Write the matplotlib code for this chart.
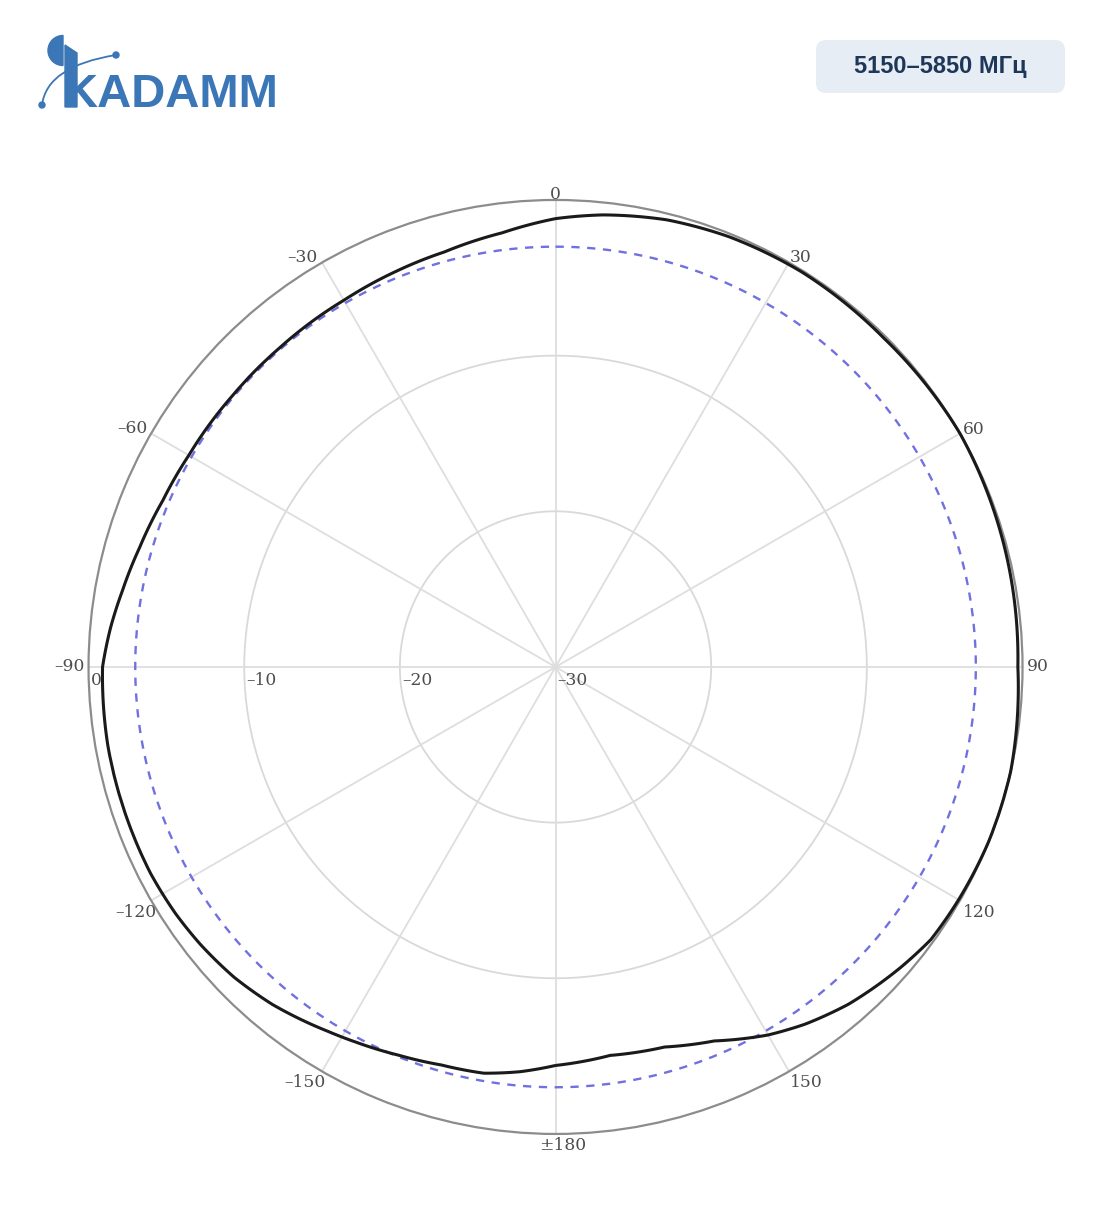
import numpy as np
import matplotlib
matplotlib.use("Agg")
import matplotlib.pyplot as plt
from matplotlib.patches import FancyBboxPatch, Wedge, Polygon, PathPatch, Circle
from matplotlib.path import Path

# --- данные диаграммы направленности (угол, град / уровень, дБ) ---
angles_deg = [-180, -175, -170, -164, -158, -152, -148, -140, -134, -128, -123,
              -117, -110, -100, -90, -85, -80, -74, -67, -60, -50, -41, -30,
              -22, -15, -7, 0, 6, 14, 22, 32, 45, 60, 75, 90, 103, 112, 120,
              126, 131, 139, 145, 150, 157, 164, 172, 180]
gain_db = [-4.4, -3.9, -3.5, -3.4, -3.1, -2.7, -2.4, -1.7, -1.3, -1.05, -0.9,
           -0.8, -0.8, -0.8, -0.9, -1.3, -1.75, -2.2, -2.6, -2.8, -2.9, -2.9, -2.8,
           -2.6, -2.4, -1.9, -1.2, -0.8, -0.4, -0.2, -0.1, -0.15, 0.0, -0.15, -0.3, 0.0, 0.0, -0.1,
           -0.2, -0.6, -1.3, -2.0, -2.7, -3.9, -4.6, -4.8, -4.4]
level_3db = -3
ring_levels = [-20, -10]
ring_labels = ["0", "\u201310", "\u201320", "\u201330"]
r_min, r_max = -30, 0
spoke_angles = list(range(0, 360, 30))
angle_labels = ["0", "30", "60", "90", "120", "150", "\u00b1180",
                "\u2013150", "\u2013120", "\u201390", "\u201360", "\u201330"]
band_text = "5150\u20135850 МГц"

fig = plt.figure(figsize=(11.04, 12.11), dpi=100)

# полярная часть
ax = fig.add_axes([0.0802, 0.0636, 0.846, 0.7713], projection="polar")
ax.set_theta_zero_location("N")
ax.set_theta_direction(-1)
ax.set_ylim(r_min, r_max)
ax.grid(False)
ax.set_xticks([])
ax.set_yticks([])
ax.spines["polar"].set_color("#8c8c8c")
ax.spines["polar"].set_linewidth(1.6)

full = np.linspace(0, 2 * np.pi, 361)
for lv in ring_levels:
    ax.plot(full, [lv] * len(full), color="#d9d9d9", lw=1.3, zorder=1)
for a in spoke_angles:
    ax.plot([np.deg2rad(a)] * 2, [r_min, r_max], color="#dedede", lw=1.3, zorder=1)

# -3 дБ
ax.plot(full, [level_3db] * len(full), color="#7070e0", lw=1.7,
        dashes=(3.5, 3.2), zorder=2)
# измеренная диаграмма (сегменты интерполирует сама полярная проекция)
pts = np.column_stack([np.deg2rad(angles_deg), gain_db])
curve = PathPatch(Path(pts, _interpolation_steps=40), transform=ax.transData,
                  fill=False, edgecolor="#1a1a1a", lw=2.2, zorder=3,
                  clip_on=False, joinstyle="round")
ax.add_patch(curve)

lab_font = dict(family="DejaVu Serif", size=12.3, color="#4d4d4d")
# смещения подписей углов (px)
offs = [(0, 5, "center"), (1, 5, "left"), (3, 4, "left"), (4, 0, "left"),
        (3, -12, "left"), (1, -11, "left"), (7, -12, "center"),
        (3, -11, "right"), (5, -12, "right"), (-4, 0, "right"),
        (-4, 5, "right"), (-5, 5, "right")]
for a, lab, (dx, dy, ha) in zip(spoke_angles, angle_labels, offs):
    ax.annotate(lab, xy=(np.deg2rad(a), r_max), xytext=(dx * 0.72, dy * 0.72),
                textcoords="offset points", ha=ha, va="center",
                annotation_clip=False, **lab_font)

for lv, lab in zip([0, -10, -20, -30], ring_labels):
    ax.annotate(lab, xy=(np.deg2rad(270), lv), xytext=(2 * 0.72, -5 * 0.72),
                textcoords="offset points", ha="left", va="top",
                annotation_clip=False, **lab_font)

# шапка: логотип и диапазон
hdr = fig.add_axes([0, 0, 1, 1], zorder=-1)
hdr.set_xlim(0, 1104)
hdr.set_ylim(1211, 0)
hdr.axis("off")

blue = "#3b76b6"
hdr.add_patch(Wedge((63, 50.5), 15, 90, 270, color=blue))
hdr.add_patch(Polygon([(65, 45), (77, 53), (77, 107), (65, 107)], color=blue))
hdr.text(64, 107, "KADAMM", family="Liberation Sans", weight="bold",
         fontsize=34, color=blue, ha="left", va="baseline")
swoosh = Path([(42, 105), (47, 66), (116, 55)],
              [Path.MOVETO, Path.CURVE3, Path.CURVE3])
hdr.add_patch(PathPatch(swoosh, fill=False, edgecolor=blue, lw=1.3))
hdr.add_patch(Circle((42, 105), 3, color=blue))
hdr.add_patch(Circle((116, 55), 3, color=blue))

badge = FancyBboxPatch((816, 40), 249, 53, boxstyle="round,pad=0,rounding_size=10",
                       facecolor="#e7edf5", edgecolor="none")
hdr.add_patch(badge)
hdr.text(940.5, 67, band_text, family="Liberation Sans", weight="bold",
         fontsize=17, color="#1e3658", ha="center", va="center")

fig.savefig("out.png", dpi=100)
